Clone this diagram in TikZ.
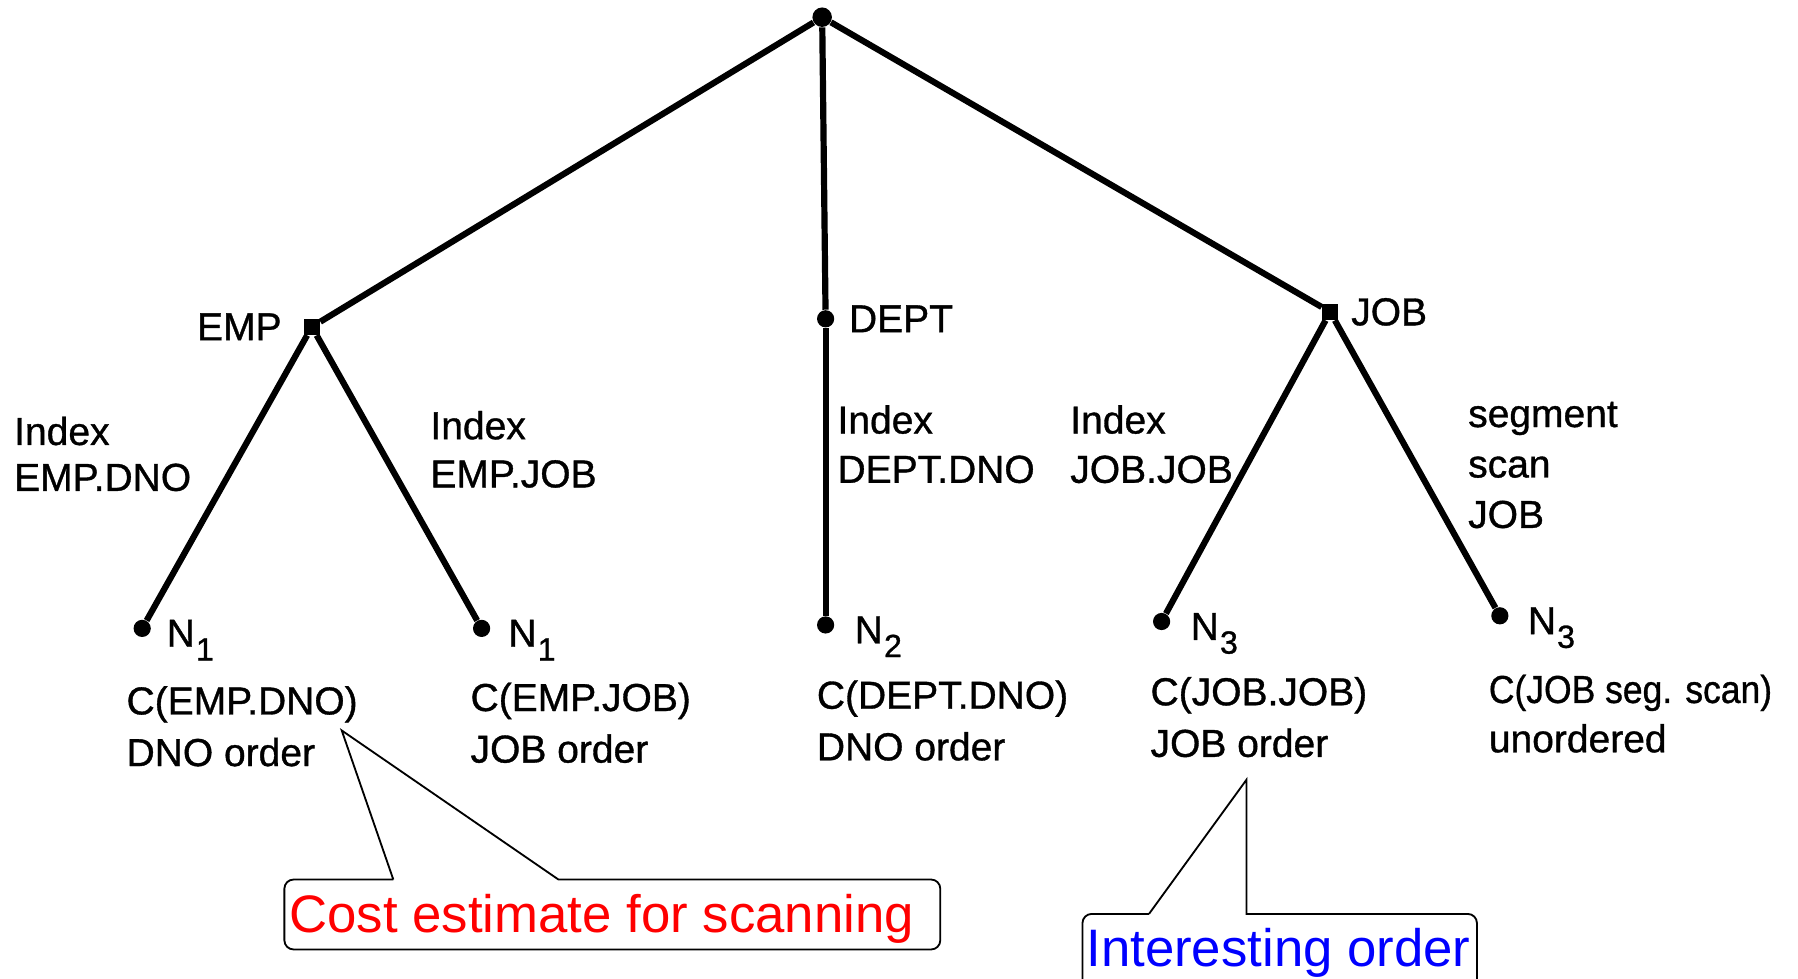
\documentclass[tikz,border=0pt]{standalone}
\usepackage{fontspec}
\setmainfont{Liberation Sans}
\newfontfamily\treefont[FakeBold=0.9]{Liberation Sans}
\newcommand{\Nsub}[1]{N\kern0.5pt\raisebox{-6pt}{\fontsize{14}{14}\selectfont #1}}
\begin{document}
\begin{tikzpicture}[x=0.5pt,y=-0.5pt,
  dot/.style={circle,fill=black,inner sep=0pt,minimum size=7.5pt},
  edge/.style={line width=2.7pt},
  lbl/.style={inner sep=0pt,font=\treefont\fontsize{17}{21}\selectfont,align=left},
  callline/.style={line width=0.8pt,line join=miter},
  calltext/.style={inner sep=0pt,font=\fontsize{23}{27}\selectfont,anchor=base west}]
\clip (0,0) rectangle (1568,853);
\fill[white] (0,0) rectangle (1568,853);

% tree nodes
\node[dot,minimum size=8.5pt] (root) at (717,15) {};
\node[dot,rectangle,minimum size=7pt] (emp)  at (272,285) {};
\node[dot] (dept) at (720,278) {};
\node[dot,rectangle,minimum size=7pt] (job)  at (1160,272) {};
\node[dot] (l1) at (124,548) {};
\node[dot] (l2) at (420,548) {};
\node[dot] (l3) at (720,545) {};
\node[dot] (l4) at (1013,542) {};
\node[dot] (l5) at (1308,537) {};

% edges
\draw[edge] (root) -- (emp);
\draw[edge] (root) -- (dept);
\draw[edge] (root) -- (job);
\draw[edge] (emp) -- (l1);
\draw[edge] (emp) -- (l2);
\draw[edge] (dept) -- (l3);
\draw[edge] (job) -- (l4);
\draw[edge] (job) -- (l5);

% node names
\node[lbl,anchor=east] (empt) at (246,285) {EMP};
\node[lbl,anchor=west] (deptt) at (740,278) {DEPT};
\node[lbl,anchor=west] (jobt) at (1178,272) {JOB};

% access path labels
\node[lbl,anchor=north west,font=\treefont\fontsize{17}{20}\selectfont] (a1) at (12,363) {Index\\EMP.DNO};
\node[lbl,anchor=north west] (a2) at (375,358) {Index\\EMP.JOB};
\node[lbl,anchor=north west,font=\treefont\fontsize{17}{21.5}\selectfont] (a3) at (730,353) {Index\\DEPT.DNO};
\node[lbl,anchor=north west,font=\treefont\fontsize{17}{21.5}\selectfont] (a4) at (933,353) {Index\\JOB.JOB};
\node[lbl,anchor=north west,font=\treefont\fontsize{17}{22}\selectfont] (a5) at (1280,350) {segment\\scan\\JOB};

% leaf labels
\node[lbl,anchor=base west] (n1) at (145,564) {\Nsub{1}};
\node[lbl,anchor=base west] (n2) at (443,564) {\Nsub{1}};
\node[lbl,anchor=base west] (n3) at (745,561) {\Nsub{2}};
\node[lbl,anchor=base west] (n4) at (1038,558) {\Nsub{3}};
\node[lbl,anchor=base west] (n5) at (1332,553) {\Nsub{3}};

\node[lbl,anchor=north west,font=\treefont\fontsize{17}{22.5}\selectfont] (c1) at (110,598) {C(EMP.DNO)\\DNO order};
\node[lbl,anchor=north west,font=\treefont\fontsize{17}{22.5}\selectfont] (c2) at (410,595) {C(EMP.JOB)\\JOB order};
\node[lbl,anchor=north west,font=\treefont\fontsize{17}{22.5}\selectfont] (c3) at (712,593) {C(DEPT.DNO)\\DNO order};
\node[lbl,anchor=north west,font=\treefont\fontsize{17}{22.5}\selectfont] (c4) at (1003,590) {C(JOB.JOB)\\JOB order};
\node[lbl,anchor=north west,font=\treefont\fontsize{17}{21.5}\selectfont] (c5) at (1298,588) {\scalebox{0.91}[1]{C(JOB seg. scan)}\\unordered};

% callout: cost estimate
\coordinate (costtip) at (298,637);
\coordinate (costb1) at (343,767);
\coordinate (costb2) at (487,767);
\draw[callline] (costb1) -- (costtip) -- (costb2)
  {[rounded corners=4pt] -- (820,767) -- (820,828) -- (248,828) -- (248,767)} -- (costb1);
\node[calltext,text=red] (cost) at (252,813) {Cost estimate for scanning};

% callout: interesting order
\coordinate (inttip) at (1087,680);
\coordinate (intb1) at (1002,797);
\coordinate (intb2) at (1087,797);
\draw[callline] (intb1) -- (inttip) -- (intb2)
  {[rounded corners=4pt] -- (1288,797) -- (1288,862) -- (944,862) -- (944,797)} -- (intb1);
\node[calltext,text=blue] (inter) at (947,843) {Interesting order};
\end{tikzpicture}
\end{document}
